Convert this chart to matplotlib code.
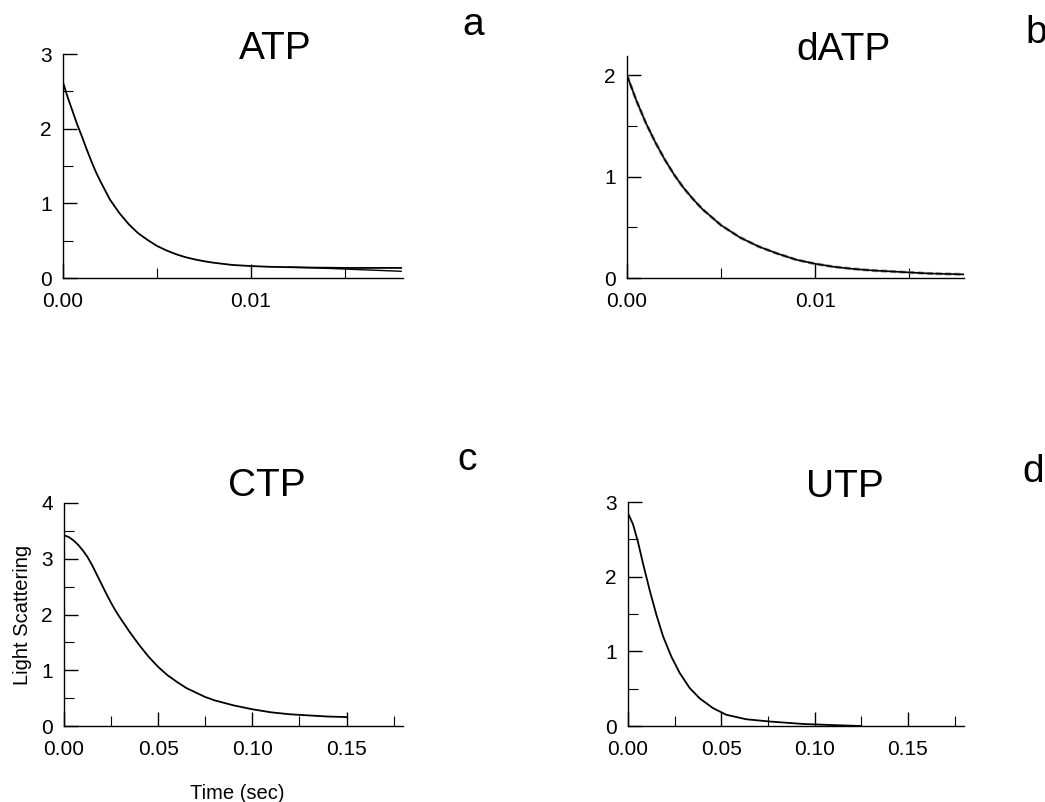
import numpy as np
import matplotlib

matplotlib.use("Agg")

import matplotlib.pyplot as plt
from matplotlib.ticker import MultipleLocator

plt.rcParams["font.family"] = ["Liberation Sans", "DejaVu Sans"]

# ======================
# DATA
# ======================

# ATP, time in seconds
atp_t = [0.0, 0.00025, 0.0005, 0.00075, 0.001, 0.00125, 0.0015, 0.00175, 0.002, 0.0025,
         0.003, 0.0035, 0.004, 0.0045, 0.005, 0.0055, 0.006, 0.0065, 0.007, 0.0075,
         0.008, 0.009, 0.010, 0.011, 0.012, 0.013, 0.014, 0.015, 0.016, 0.017, 0.018]
atp_y = [2.62, 2.42, 2.24, 2.06, 1.90, 1.73, 1.57, 1.42, 1.29, 1.05,
         0.87, 0.72, 0.60, 0.51, 0.43, 0.37, 0.32, 0.28, 0.25, 0.225,
         0.205, 0.175, 0.16, 0.15, 0.145, 0.14, 0.138, 0.135, 0.135, 0.135, 0.135]
# measured trace that drifts below the fit at the end
atp_raw_t = [0.012, 0.013, 0.014, 0.015, 0.016, 0.017, 0.018]
atp_raw_y = [0.145, 0.14, 0.13, 0.12, 0.11, 0.10, 0.09]

datp_t = [0.0, 0.0005, 0.001, 0.0015, 0.002, 0.0025, 0.003, 0.0035, 0.004, 0.005,
          0.006, 0.007, 0.008, 0.009, 0.010, 0.011, 0.012, 0.013, 0.014, 0.015,
          0.016, 0.017, 0.018]
datp_y = [2.0, 1.75, 1.53, 1.34, 1.17, 1.02, 0.89, 0.78, 0.68, 0.52,
          0.40, 0.31, 0.24, 0.18, 0.14, 0.11, 0.09, 0.075, 0.065, 0.055,
          0.045, 0.04, 0.035]

ctp_t = [0.0, 0.0025, 0.005, 0.0075, 0.010, 0.0125, 0.015, 0.0175, 0.020, 0.0225,
         0.025, 0.0275, 0.030, 0.035, 0.040, 0.045, 0.050, 0.055, 0.060, 0.065,
         0.070, 0.075, 0.080, 0.090, 0.100, 0.110, 0.120, 0.130, 0.140, 0.150]
ctp_y = [3.42, 3.39, 3.33, 3.25, 3.15, 3.03, 2.88, 2.71, 2.54, 2.37,
         2.21, 2.06, 1.93, 1.68, 1.45, 1.24, 1.06, 0.91, 0.79, 0.68,
         0.60, 0.52, 0.46, 0.37, 0.30, 0.245, 0.21, 0.19, 0.17, 0.16]

utp_t = [0.0, 0.0027, 0.0054, 0.008, 0.0116, 0.0152, 0.0188, 0.0232, 0.0277, 0.033,
         0.0384, 0.0455, 0.0527, 0.0634, 0.0759, 0.094, 0.112, 0.125]
utp_y = [2.85, 2.70, 2.46, 2.18, 1.82, 1.49, 1.20, 0.93, 0.71, 0.51,
         0.37, 0.24, 0.15, 0.09, 0.06, 0.027, 0.01, 0.0]

names = ["ATP", "dATP", "CTP", "UTP"]
letters = ["a", "b", "c", "d"]

# ======================
# FIGURE
# ======================

W, H = 1045, 802
fig = plt.figure(figsize=(W / 100, H / 100), dpi=100)


def px_axes(left, right, top, bottom):
    return fig.add_axes([left / W, 1 - bottom / H, (right - left) / W, (bottom - top) / H])


ax_a = px_axes(63, 403, 54, 278)
ax_b = px_axes(627, 964, 56, 278)
ax_c = px_axes(64, 403, 503, 726)
ax_d = px_axes(628, 964, 502, 726)

ax_a.plot(atp_t, atp_y, color="black", lw=1.3)
ax_a.plot(atp_raw_t, atp_raw_y, color="black", lw=1.0)
ax_b.plot(datp_t, datp_y, color="#999999", lw=2.2, ls=(0, (2, 1)))
ax_b.plot(datp_t, datp_y, color="black", lw=1.2)
ax_c.plot(ctp_t, ctp_y, color="black", lw=1.3)
ax_d.plot(utp_t, utp_y, color="black", lw=1.3)

ax_a.set_xlim(0, 0.0181)
ax_a.set_ylim(0, 3)
ax_b.set_xlim(0, 0.0179)
ax_b.set_ylim(0, 2.19)
ax_c.set_xlim(0, 0.18)
ax_c.set_ylim(0, 4)
ax_d.set_xlim(0, 0.18)
ax_d.set_ylim(0, 3)

for ax in [ax_a, ax_b]:
    ax.xaxis.set_minor_locator(MultipleLocator(0.005))
    ax.set_xticks([0.0, 0.01])
    ax.set_xticklabels(["0.00", "0.01"])

for ax in [ax_c, ax_d]:
    ax.xaxis.set_minor_locator(MultipleLocator(0.025))
    ax.set_xticks([0.0, 0.05, 0.10, 0.15])
    ax.set_xticklabels(["0.00", "0.05", "0.10", "0.15"])

for ax in [ax_a, ax_b, ax_c, ax_d]:
    ax.yaxis.set_major_locator(MultipleLocator(1))
    ax.yaxis.set_minor_locator(MultipleLocator(0.5))
    ax.spines["top"].set_visible(False)
    ax.spines["right"].set_visible(False)
    ax.spines["left"].set_linewidth(1.0)
    ax.spines["bottom"].set_linewidth(1.0)
    ax.tick_params(which="major", direction="in", length=10, width=1.0,
                   labelsize=15)
    ax.tick_params(which="minor", direction="in", length=7, width=0.8)
    ax.tick_params(axis="x", which="major", pad=10)
    ax.tick_params(axis="y", which="major", pad=8)

ax_c.set_ylabel("Light Scattering", fontsize=14.5)
ax_c.yaxis.set_label_coords(-0.094, 0.5)
ax_c.set_xlabel("Time (sec)", fontsize=14.5)
ax_c.xaxis.set_label_coords(0.51, -0.262)

# panel titles
fig.text(275 / W, 1 - 59 / H, "ATP", fontsize=28, ha="center", va="baseline")
fig.text(843 / W, 1 - 60 / H, "dATP", fontsize=28, ha="center", va="baseline")
fig.text(267 / W, 1 - 496 / H, "CTP", fontsize=28, ha="center", va="baseline")
fig.text(845 / W, 1 - 497 / H, "UTP", fontsize=28, ha="center", va="baseline")

# panel letters
fig.text(473 / W, 1 - 35 / H, "a", fontsize=28, ha="center", va="baseline")
fig.text(1036 / W, 1 - 43 / H, "b", fontsize=28, ha="center", va="baseline")
fig.text(467 / W, 1 - 470 / H, "c", fontsize=28, ha="center", va="baseline")
fig.text(1033 / W, 1 - 482 / H, "d", fontsize=28, ha="center", va="baseline")

plt.savefig("out.png", dpi=100)
plt.close()
